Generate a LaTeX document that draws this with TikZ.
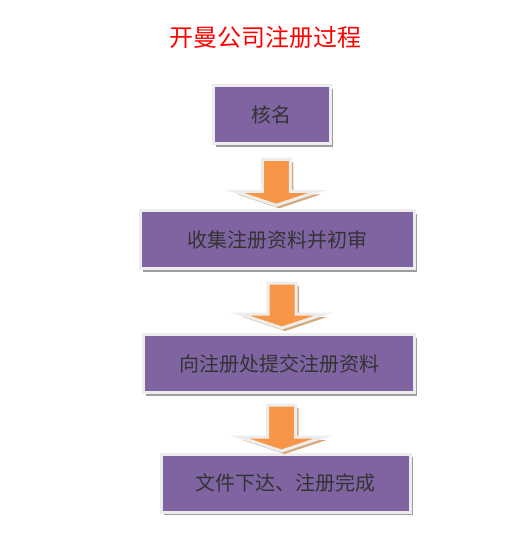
\documentclass[tikz,border=0pt]{standalone}
\usepackage{fontspec}
\setmainfont{Noto Sans CJK SC}
\usetikzlibrary{calc,shadows}
\definecolor{kastenlila}{HTML}{8064A2}
\definecolor{pfeilorange}{HTML}{F79646}
\definecolor{pfeilschatten}{HTML}{D6A97C}
\definecolor{randgrau}{HTML}{EDEDED}
\definecolor{textgrau}{HTML}{333333}
\tikzset{
  stepbox/.style={rectangle,fill=kastenlila,draw=randgrau,line width=3pt,
    text=textgrau,font=\fontsize{20}{20}\selectfont,inner sep=0pt,
    minimum height=58pt,
    drop shadow={shadow xshift=2.5pt,shadow yshift=-3pt,fill=black!38,opacity=1}},
  titel/.style={text=red,font=\fontsize{24}{24}\selectfont}
}
\newcommand{\pfeilpfad}[1]{($(P#1)+(-14,0)$) -- ($(P#1)+(14,0)$) -- ($(Q#1)+(14,-14)$)
  -- ($(Q#1)+(42,-14)$) -- (Q#1) -- ($(Q#1)+(-42,-14)$) -- ($(Q#1)+(-14,-14)$) -- cycle}
\begin{document}
\begin{tikzpicture}[x=1pt,y=-1pt]
\useasboundingbox (0,0) rectangle (527,543);
% Ueberschrift
\node[titel] (titel) at (265.5,37) {开曼公司注册过程};
% Kaesten der vier Schritte
\node[stepbox,minimum width=116.5pt] (hm) at (271.75,114.75) {核名};
\node[stepbox,minimum width=274pt] (sj) at (277.5,239.5) {收集注册资料并初审};
\node[stepbox,minimum width=271pt] (tj) at (279,363.5) {向注册处提交注册资料};
\node[stepbox,minimum width=249pt] (wc) at (285.5,483) {文件下达、注册完成};
% Pfeile zwischen den Kaesten: Schaftanfang P, Spitze Q
\coordinate (P1) at ($(hm.south)+(4.5,14)$);
\coordinate (Q1) at ($(P1)+(0,46)$);
\coordinate (P2) at ($(sj.south)+(4.5,13)$);
\coordinate (Q2) at ($(P2)+(0,45)$);
\coordinate (P3) at ($(tj.south)+(2.5,11)$);
\coordinate (Q3) at ($(P3)+(0,46)$);
\foreach \i in {1,2,3}{
  % Schatten
  \begin{scope}[transform canvas={shift={(3pt,-3pt)}}]
    \fill[pfeilschatten] \pfeilpfad{\i};
  \end{scope}
  % Pfeil mit hellem Rand
  \filldraw[fill=pfeilorange,draw=randgrau,line width=3pt,line join=miter] \pfeilpfad{\i};
}
\end{tikzpicture}
\end{document}
